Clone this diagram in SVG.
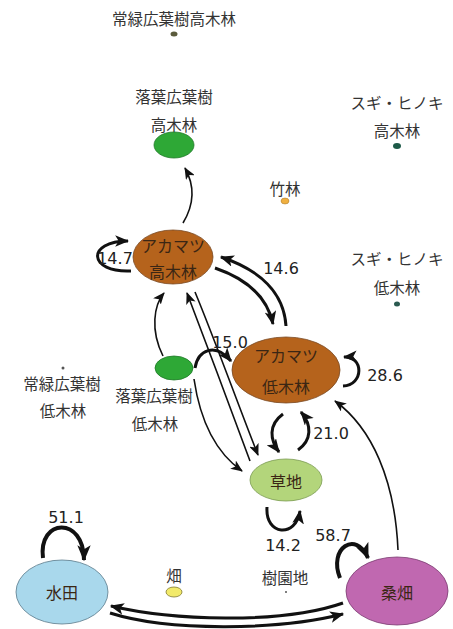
<svg xmlns="http://www.w3.org/2000/svg" width="453" height="629" viewBox="0 0 453 629">
<style>
.jp{font-family:"Noto Sans CJK JP","Noto Sans",sans-serif;font-size:15.5px;fill:#333;text-anchor:middle;dominant-baseline:central}
.jn{font-family:"Noto Sans CJK JP","Noto Sans",sans-serif;font-size:16px;fill:#3a2614;text-anchor:middle;dominant-baseline:central}
.num{font-family:"DejaVu Sans","Liberation Sans",sans-serif;font-size:16px;fill:#222;text-anchor:middle;dominant-baseline:central}
.thin{fill:none;stroke:#111;stroke-width:1.6;marker-end:url(#arrS)}
.thick{fill:none;stroke:#111;stroke-width:3;marker-end:url(#arrL)}
.heavy{fill:none;stroke:#111;stroke-width:4;marker-end:url(#arrH)}
</style>
<defs>
<marker id="arrS" markerUnits="userSpaceOnUse" viewBox="0 0 12 10" refX="11" refY="5" markerWidth="12" markerHeight="10" orient="auto"><path d="M0,0 L12,5 L0,10 L3,5 z" fill="#111"/></marker>
<marker id="arrL" markerUnits="userSpaceOnUse" viewBox="0 0 12 10" refX="11" refY="5" markerWidth="14" markerHeight="12" orient="auto"><path d="M0,0 L12,5 L0,10 L3,5 z" fill="#111"/></marker>
<marker id="arrH" markerUnits="userSpaceOnUse" viewBox="0 0 12 10" refX="11" refY="5" markerWidth="16" markerHeight="14" orient="auto"><path d="M0,0 L12,5 L0,10 L3,5 z" fill="#111"/></marker>
</defs>
<rect width="453" height="629" fill="#fff"/>

<g id="connectors">
<path class="thin" d="M183,223 Q200,195 185,168"/>
<path class="thick" d="M131,271 C 88,273 86,241 128,241"/>
<path class="thick" d="M286,326 C 284,293 260,270 221,257"/>
<path class="thick" d="M215,268 C 250,280 268,300 273,324"/>
<path class="thin" d="M163,356 C 150,330 154,305 164,293"/>
<path class="thick" d="M195,368 C 198,350 215,342 231,361"/>
<path class="thin" d="M250,461 C 235,420 205,340 187,293"/>
<path class="thin" d="M195,292 C 215,340 240,410 258,455"/>
<path class="thin" d="M194,379 C 200,420 215,452 242,471"/>
<path class="thick" d="M343,386 C 364,385 364,356 344,357"/>
<path class="thick" d="M283,414 C 268,425 270,440 279,452"/>
<path class="thick" d="M298,450 C 312,440 312,425 301,412"/>
<path class="thin" d="M398,550 C 395,480 372,428 335,401"/>
<path class="thick" d="M267,507 C 265,536 296,538 300,511"/>
<path class="heavy" d="M43,558 C 38,518 84,516 84,560"/>
<path class="heavy" d="M340,578 C 328,548 356,530 368,558"/>
<path class="thick" d="M343,603 C 280,625 170,620 111,606"/>
<path class="thick" d="M110,613 C 170,632 280,630 343,614"/>
</g>

<g id="n-jouryoku-kouboku">
<text class="jp" x="174" y="18">常緑広葉樹高木林</text>
<ellipse cx="174" cy="34" rx="3.5" ry="2.5" fill="#5b5b3c"/>
</g>
<g id="n-rakuyou-kouboku">
<text class="jp" x="174" y="96">落葉広葉樹</text>
<text class="jp" x="174" y="124">高木林</text>
<ellipse cx="174" cy="145" rx="20" ry="13" fill="#2ea836" stroke="#1f7a28" stroke-width="0.8"/>
</g>
<g id="n-sugi-kouboku">
<text class="jp" x="397" y="102">スギ・ヒノキ</text>
<text class="jp" x="397" y="130">高木林</text>
<ellipse cx="397" cy="146" rx="4" ry="3" fill="#1d5a48"/>
</g>
<g id="n-chikurin">
<text class="jp" x="285" y="188">竹林</text>
<ellipse cx="285" cy="201" rx="4" ry="3" fill="#f0b040" stroke="#a07020" stroke-width="0.5"/>
</g>
<g id="n-sugi-teiboku">
<text class="jp" x="397" y="258">スギ・ヒノキ</text>
<text class="jp" x="397" y="287">低木林</text>
<ellipse cx="397" cy="304" rx="3" ry="2.5" fill="#2a5a50"/>
</g>
<g id="n-akamatsu-kouboku">
<ellipse cx="173" cy="257" rx="40" ry="27" fill="#b5631c" stroke="#7a4a24" stroke-width="0.8"/>
<text class="jn" x="173" y="245">アカマツ</text>
<text class="jn" x="173" y="271">高木林</text>
</g>
<g id="n-akamatsu-teiboku">
<ellipse cx="286" cy="370" rx="54" ry="33" fill="#b5631c" stroke="#7a4a24" stroke-width="0.8"/>
<text class="jn" x="286" y="355">アカマツ</text>
<text class="jn" x="286" y="386">低木林</text>
</g>
<g id="n-rakuyou-teiboku">
<ellipse cx="174" cy="368" rx="19" ry="12" fill="#2ea836" stroke="#1f7a28" stroke-width="0.8"/>
<text class="jp" x="154" y="395">落葉広葉樹</text>
<text class="jp" x="155" y="423">低木林</text>
</g>
<g id="n-jouryoku-teiboku">
<ellipse cx="63" cy="368" rx="1.5" ry="1.5" fill="#555"/>
<text class="jp" x="62" y="383">常緑広葉樹</text>
<text class="jp" x="63" y="410">低木林</text>
</g>
<g id="n-souchi">
<ellipse cx="286" cy="480" rx="36" ry="21" fill="#b3d57b" stroke="#7a9a50" stroke-width="0.8"/>
<text class="jn" x="286" y="481">草地</text>
</g>
<g id="n-suiden">
<ellipse cx="62" cy="592" rx="46" ry="32" fill="#a9d8ec" stroke="#5a7a8a" stroke-width="0.8"/>
<text class="jn" x="62" y="592">水田</text>
</g>
<g id="n-kuwabatake">
<ellipse cx="397" cy="591" rx="51" ry="34" fill="#c068b0" stroke="#7a3a70" stroke-width="0.8"/>
<text class="jn" x="397" y="592">桑畑</text>
</g>
<g id="n-hatake">
<text class="jp" x="174" y="575">畑</text>
<ellipse cx="174" cy="592" rx="8" ry="5" fill="#f2ea6a" stroke="#807830" stroke-width="0.8"/>
</g>
<g id="n-juenchi">
<text class="jp" x="285" y="577">樹園地</text>
<ellipse cx="286" cy="592" rx="1" ry="1" fill="#555"/>
</g>

<g id="labels">
<text class="num" x="115" y="258">14.7</text>
<text class="num" x="281" y="268">14.6</text>
<text class="num" x="230" y="342">15.0</text>
<text class="num" x="385" y="375">28.6</text>
<text class="num" x="331" y="433">21.0</text>
<text class="num" x="66" y="517">51.1</text>
<text class="num" x="283" y="545">14.2</text>
<text class="num" x="333" y="535">58.7</text>
</g>
</svg>
